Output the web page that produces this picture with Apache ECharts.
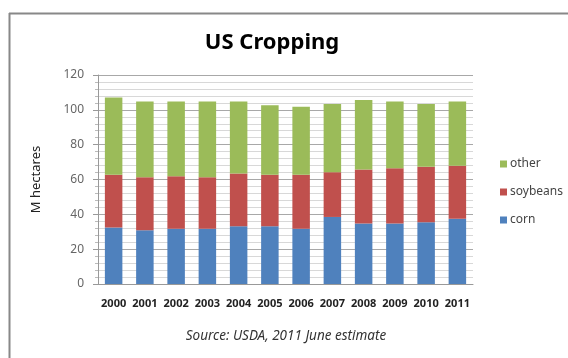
<!DOCTYPE html>
<html>
<head>
<meta charset="utf-8">
<script src="https://cdn.jsdelivr.net/npm/echarts@6/dist/echarts.min.js"></script>
<style>html,body{margin:0;padding:0;background:#fff}#c{width:568px;height:358px}</style>
</head>
<body>
<div id="c"></div>
<script>
var years = ['2000','2001','2002','2003','2004','2005','2006','2007','2008','2009','2010','2011'];
var corn = [32.5, 30.8, 31.7, 31.7, 33.1, 33.1, 31.7, 38.5, 34.8, 34.8, 35.4, 37.5];
var soybeans = [30.2, 30.5, 30.2, 29.6, 30.4, 29.6, 31.0, 25.7, 31.0, 31.7, 31.9, 30.4];
var other = [44.4, 43.5, 42.9, 43.5, 41.3, 40.0, 39.0, 39.1, 39.8, 38.3, 36.0, 36.9];
var yTicks = [0, 20, 40, 60, 80, 100, 120];

var chart = echarts.init(document.getElementById('c'), null, {renderer: 'canvas'});
var font = 'Noto Sans, sans-serif';
chart.setOption({
  animation: false,
  backgroundColor: '#fff',
  title: [{
    text: 'US Cropping',
    left: 267, top: 27, textAlign: 'center',
    textStyle: {fontFamily: font, fontSize: 22, fontWeight: 'bold', color: '#000'}
  }, {
    text: 'Source: USDA, 2011 June estimate',
    left: 281, top: 324, textAlign: 'center',
    textStyle: {fontFamily: font, fontSize: 13.5, fontStyle: 'italic', fontWeight: 'normal', color: '#333'}
  }],
  legend: {
    orient: 'vertical', left: 495, top: 153,
    itemWidth: 7, itemHeight: 7, itemGap: 16,
    icon: 'rect',
    data: ['other', 'soybeans', 'corn'],
    textStyle: {fontFamily: font, fontSize: 12, color: '#444', padding: [0,0,0,-2]}
  },
  grid: {left: 98, right: 95, top: 75, bottom: 74, containLabel: false},
  xAxis: {
    type: 'category', data: years,
    axisLine: {lineStyle: {color: '#999'}},
    axisTick: {show: false},
    axisLabel: {fontFamily: font, fontSize: 11, fontWeight: 'bold', color: '#222', margin: 14, interval: 0}
  },
  yAxis: {
    type: 'value', min: 0, max: 120, interval: 20,
    name: 'M hectares', nameLocation: 'middle', nameGap: 55, nameRotate: 90,
    nameTextStyle: {fontFamily: font, fontSize: 13, color: '#222'},
    axisLine: {show: true, lineStyle: {color: '#999'}},
    axisTick: {show: true, length: 5, lineStyle: {color: '#999'}},
    minorTick: {show: true, splitNumber: 5, length: 3, lineStyle: {color: '#bbb'}},
    axisLabel: {fontFamily: font, fontSize: 12, color: '#666', margin: 14,
      formatter: function (v) { return yTicks.indexOf(v) >= 0 ? String(v) : ''; }},
    splitLine: {show: true, lineStyle: {color: '#a8a8a8'}},
    minorSplitLine: {show: true, lineStyle: {color: '#d8d8d8'}}
  },
  series: [
    {name: 'corn', type: 'bar', stack: 's', data: corn, barWidth: '56%', itemStyle: {color: '#4F81BD'}},
    {name: 'soybeans', type: 'bar', stack: 's', data: soybeans, itemStyle: {color: '#C0504D'}},
    {name: 'other', type: 'bar', stack: 's', data: other, itemStyle: {color: '#9BBB59'}}
  ],
  graphic: [
    {type: 'line', shape: {x1: 9.5, y1: 13, x2: 9.5, y2: 358}, style: {stroke: '#888', lineWidth: 2}},
    {type: 'line', shape: {x1: 9, y1: 13.5, x2: 568, y2: 13.5}, style: {stroke: '#888', lineWidth: 2}}
  ]
});
</script>
</body>
</html>
